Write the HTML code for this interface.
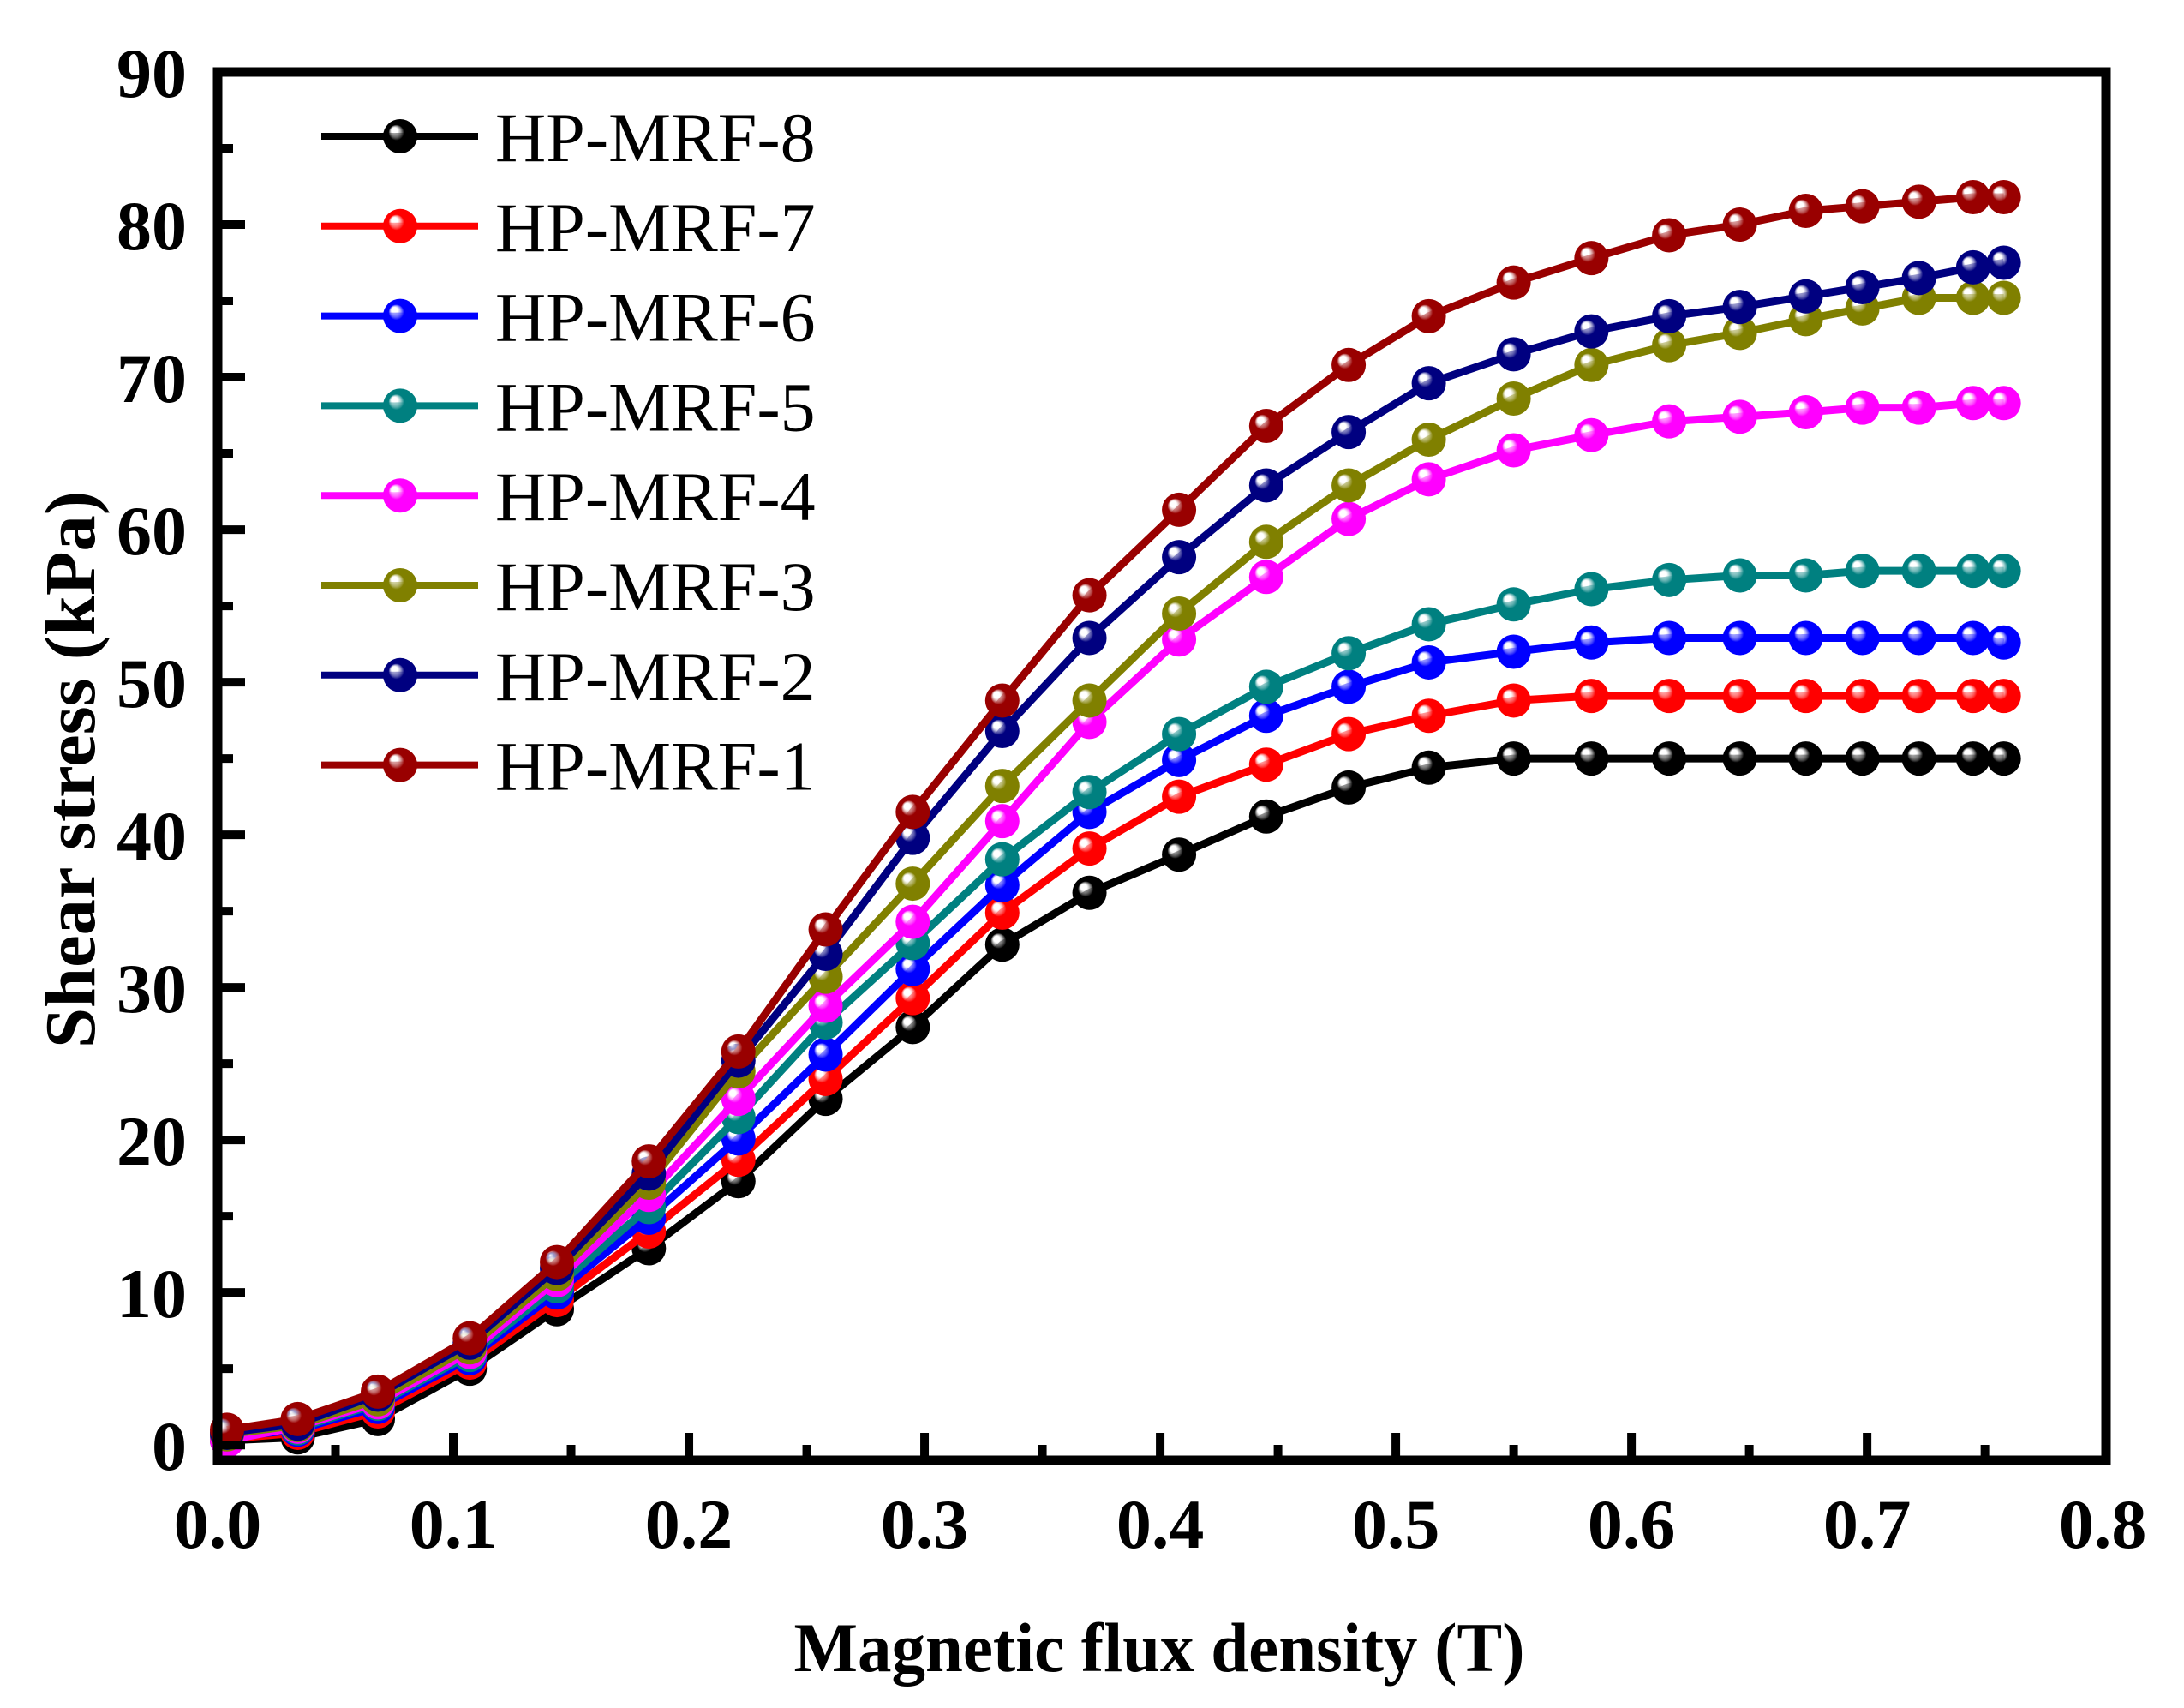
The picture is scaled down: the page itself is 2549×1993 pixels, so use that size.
<!DOCTYPE html>
<html><head><meta charset="utf-8"><style>
html,body{margin:0;padding:0;background:#fff;}
svg{display:block;}
</style></head><body>
<svg id="chart" width="2549" height="1993" viewBox="0 0 2549 1993" xmlns="http://www.w3.org/2000/svg">
<defs id="defs"></defs>
<g id="plot"></g>
<g id="axes"></g>
<g id="legend"></g>
</svg>
<script>
const xValues = [0.004,0.034,0.068,0.107,0.144,0.183,0.221,0.258,0.295,0.333,0.370,0.408,0.445,0.480,0.514,0.550,0.583,0.616,0.646,0.674,0.698,0.722,0.745,0.758];
const seriesNames = ["HP-MRF-8","HP-MRF-7","HP-MRF-6","HP-MRF-5","HP-MRF-4","HP-MRF-3","HP-MRF-2","HP-MRF-1"];
const seriesColors = ["#000000","#ff0000","#0000ff","#008080","#ff00ff","#808000","#000080","#990000"];
const mrf8 = [0.3,0.5,1.7,5.0,8.9,12.9,17.3,22.7,27.4,32.8,36.2,38.7,41.2,43.1,44.4,45.0,45.0,45.0,45.0,45.0,45.0,45.0,45.0,45.0];
const mrf7 = [0.4,0.8,2.2,5.4,9.5,14.0,18.7,24.0,29.3,34.9,39.1,42.5,44.6,46.6,47.8,48.8,49.1,49.1,49.1,49.1,49.1,49.1,49.1,49.1];
const mrf6 = [0.5,1.0,2.5,5.7,10.0,14.9,20.1,25.6,31.2,36.7,41.5,44.9,47.8,49.7,51.3,52.0,52.6,52.9,52.9,52.9,52.9,52.9,52.9,52.6];
const mrf5 = [0.6,1.1,2.7,5.9,10.4,15.6,21.5,27.7,32.9,38.4,42.8,46.6,49.7,51.9,53.8,55.1,56.1,56.7,57.0,57.0,57.3,57.3,57.3,57.3];
const mrf4 = [0.3,1.2,2.8,6.1,10.8,16.4,22.7,28.8,34.3,40.9,47.4,52.8,56.9,60.7,63.3,65.2,66.2,67.1,67.4,67.7,68.0,68.0,68.3,68.3];
const mrf3 = [0.7,1.3,3.0,6.4,11.2,17.2,24.5,30.7,36.8,43.2,48.8,54.5,59.2,62.9,65.9,68.6,70.8,72.1,72.9,73.8,74.5,75.2,75.2,75.2];
const mrf2 = [0.8,1.4,3.3,6.7,11.6,17.8,25.2,32.2,39.8,46.8,52.9,58.2,62.9,66.4,69.6,71.5,73.0,74.0,74.6,75.3,75.9,76.5,77.2,77.5];
const mrf1 = [1.0,1.7,3.5,7.0,12.0,18.6,25.8,33.8,41.5,48.8,55.7,61.3,66.8,70.8,74.0,76.2,77.8,79.3,80.0,80.9,81.2,81.5,81.8,81.8];
const xTicks = ["0.0","0.1","0.2","0.3","0.4","0.5","0.6","0.7","0.8"];
const yTicks = ["0","10","20","30","40","50","60","70","80","90"];

const NS = "http://www.w3.org/2000/svg";
const seriesData = [mrf8,mrf7,mrf6,mrf5,mrf4,mrf3,mrf2,mrf1];
const X0=254, X1=2458, XMIN=0, XMAX=0.8014;
const Y0=1704, Y1=84, YMIN=-1, YMAX=90;
function sx(v){return X0+(v-XMIN)/(XMAX-XMIN)*(X1-X0);}
function sy(v){return Y0-(v-YMIN)/(YMAX-YMIN)*(Y0-Y1);}
function mk(tag,attrs,parent){const e=document.createElementNS(NS,tag);for(const k in attrs)e.setAttribute(k,attrs[k]);parent.appendChild(e);return e;}

const defs=document.getElementById('defs');
seriesColors.forEach((c,i)=>{
  const g=mk('radialGradient',{id:'grad'+i,cx:'0.5',cy:'0.5',r:'0.5',fx:'0.3',fy:'0.3'},defs);
  mk('stop',{offset:'0','stop-color':'#ffffff'},g);
  mk('stop',{offset:'0.18','stop-color':'#ffffff','stop-opacity':'0.6'},g);
  mk('stop',{offset:'0.45','stop-color':c},g);
  mk('stop',{offset:'1','stop-color':c},g);
});

const plot=document.getElementById('plot');
seriesData.forEach((data,i)=>{
  const g=mk('g',{},plot);
  
  
  const pts=data.map((v,j)=>sx(xValues[j])+','+sy(v)).join(' ');
  const line=mk('polyline',{points:pts,fill:'none',stroke:seriesColors[i],'stroke-width':9,'stroke-linejoin':'round'},g);
  
  
  data.forEach((v,j)=>{
    const c=mk('circle',{cx:sx(xValues[j]),cy:sy(v),r:20,fill:'url(#grad'+i+')'},g);
    
    
  });
});

const axes=document.getElementById('axes');
const frame=mk('rect',{x:X0,y:Y1,width:X1-X0,height:Y0-Y1,fill:'none',stroke:'#000','stroke-width':11},axes);


const tf='font-family:"Liberation Serif",serif;font-weight:bold;';
xTicks.forEach((t,i)=>{
  const v=parseFloat(t);const x=sx(v);
  if(i>0&&i<xTicks.length-1){const tk=mk('line',{x1:x,y1:Y0,x2:x,y2:Y0-32,stroke:'#000','stroke-width':10},axes);
     }
  if(i<xTicks.length-1){const xm=sx(v+0.05);const mt=mk('line',{x1:xm,y1:Y0,x2:xm,y2:Y0-18,stroke:'#000','stroke-width':10},axes);
     }
  const lb=mk('text',{x:x,y:1806,'text-anchor':'middle','font-size':82,style:tf},axes);
  lb.textContent=t;
  
  
});
yTicks.forEach((t,i)=>{
  const v=parseFloat(t);const y=sy(v);
  if(i<yTicks.length-1){const tk=mk('line',{x1:X0,y1:y,x2:X0+32,y2:y,stroke:'#000','stroke-width':10},axes);
     
    const ym=sy(v+5);const mt=mk('line',{x1:X0,y1:ym,x2:X0+18,y2:ym,stroke:'#000','stroke-width':10},axes);
     }
  const lb=mk('text',{x:218,y:y+29,'text-anchor':'end','font-size':82,style:tf},axes);
  lb.textContent=t;
  
  
});
const xt=mk('text',{x:1353,y:1950,'text-anchor':'middle','font-size':82,style:tf,textLength:853,lengthAdjust:'spacingAndGlyphs'},axes);
xt.textContent='Magnetic flux density (T)';


const yt=mk('text',{x:0,y:0,'text-anchor':'middle','font-size':84,style:tf,textLength:650,lengthAdjust:'spacingAndGlyphs',transform:'translate(110,898) rotate(-90)'},axes);
yt.textContent='Shear stress  (kPa)';



const legend=document.getElementById('legend');
seriesNames.forEach((n,i)=>{
  const y=159+i*104.8;
  const g=mk('g',{},legend);
  
  
  mk('line',{x1:375,y1:y,x2:558,y2:y,stroke:seriesColors[i],'stroke-width':8},g);
  mk('circle',{cx:467,cy:y,r:20,fill:'url(#grad'+i+')'},g);
  const tx=mk('text',{x:578,y:y+29,'font-size':82,style:'font-family:"Liberation Serif",serif;'},g);
  tx.textContent=n;
});
</script>
</body></html>
